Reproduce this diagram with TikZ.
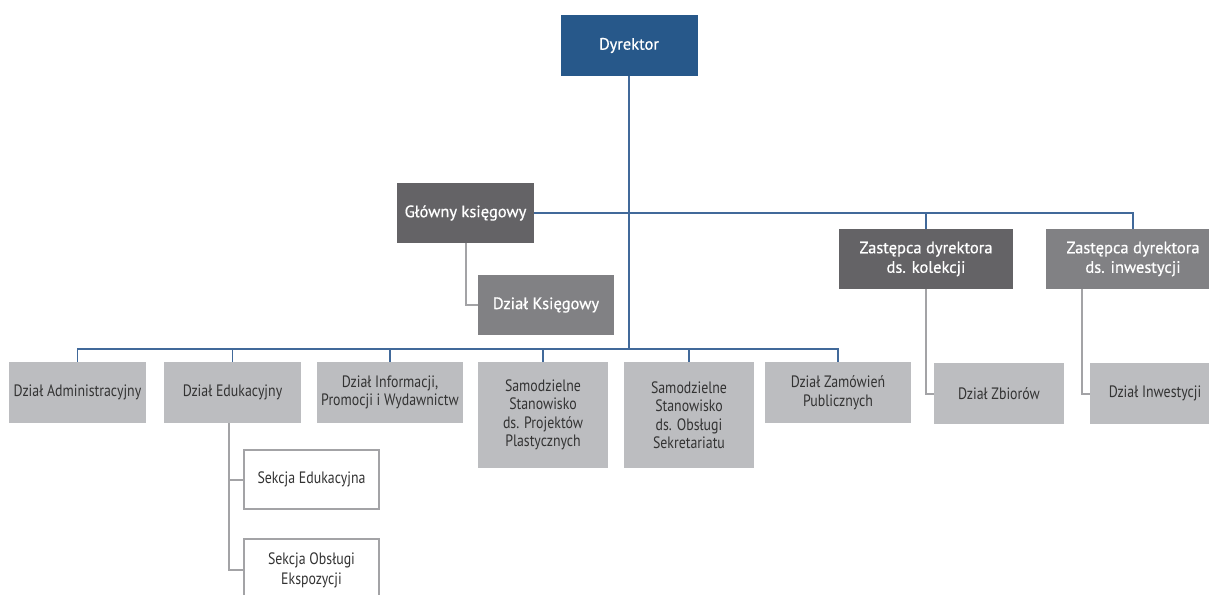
\documentclass[tikz,border=0pt]{standalone}
\usepackage{fontspec}
\setmainfont{PT Sans}
\newfontfamily\narrowfont{PT Sans}[FakeStretch=0.84]
\newfontfamily\headfont{PT Sans}[FakeBold=0.6]
\usepackage{xcolor}
\definecolor{dirblue}{HTML}{27588A}
\definecolor{darkbox}{HTML}{646366}
\definecolor{midbox}{HTML}{818184}
\definecolor{lightbox}{HTML}{BCBDC0}
\definecolor{linkblue}{HTML}{41699A}
\definecolor{linkgray}{HTML}{A3A3A6}
\definecolor{textcol}{HTML}{333333}
\tikzset{
  % top level boxes, white text
  head/.style={fill=#1, text=white, minimum height=60pt, inner sep=2pt,
               align=center, font=\headfont\fontsize{16.5}{19.5}\selectfont},
  % departments = light grey boxes
  unit/.style={fill=lightbox, text=textcol, minimum height=61pt, inner sep=2pt,
               align=center, font=\narrowfont\fontsize{16.5}{18.5}\selectfont},
  % sections = white boxes with grey frame
  sekcja/.style={draw=linkgray, line width=2pt, fill=white, text=textcol,
                 minimum width=135pt, minimum height=59pt, inner sep=2pt,
                 align=center, font=\narrowfont\fontsize{16.5}{20}\selectfont},
  blueline/.style={draw=linkblue, line width=1.5pt},
  grayline/.style={draw=linkgray, line width=2pt},
}

\begin{document}
\begin{tikzpicture}[x=1pt, y=-1pt]
  \clip (0,0) rectangle (1209,594);
  % management
  \node[head=dirblue, minimum width=137pt, minimum height=61pt] (dyr) at (629,45.5) {Dyrektor};
  \node[head=darkbox, minimum width=137pt] (gk) at (465.5,213) {Główny księgowy};
  \node[head=midbox, minimum width=136pt] (dk) at (546,305) {Dział Księgowy};
  \node[head=darkbox, minimum width=174pt] (zk) at (926,259) {Zastępca dyrektora\\ds. kolekcji};
  \node[head=midbox, minimum width=174pt] (zi) at (1133,259) {Zastępca dyrektora\\ds. inwestycji};

  % departments
  \node[unit, minimum width=137pt] (adm) at (77.5,392.5) {Dział Administracyjny};
  \node[unit, minimum width=137pt] (edu) at (232.5,392.5) {Dział Edukacyjny};
  \node[unit, minimum width=146pt] (inf) at (390,392.5) {Dział Informacji,\\Promocji i Wydawnictw};
  \node[unit, minimum width=130pt, minimum height=106pt] (pro) at (543,415)
    {Samodzielne\\Stanowisko\\ds. Projektów\\Plastycznych};
  \node[unit, minimum width=130pt, minimum height=106pt] (sek) at (689,415)
    {Samodzielne\\Stanowisko\\ds. Obsługi\\Sekretariatu};
  \node[unit, minimum width=146pt] (zam) at (838,392.5) {Dział Zamówień\\Publicznych};
  \node[unit, minimum width=130pt] (zb) at (999,393.5) {Dział Zbiorów};
  \node[unit, minimum width=130pt] (di) at (1155,393.5) {Dział Inwestycji};

  % sections
  \node[sekcja] (se) at (311.5,479.5) {Sekcja Edukacyjna};
  \node[sekcja, minimum height=62pt] (so) at (311.5,570) {Sekcja Obsługi\\Ekspozycji};

  % blue lines
  \coordinate (busl) at (629,349);
  \draw[blueline] (dyr.south) -- (busl);
  \draw[blueline] (adm.north) |- (busl) -| (zam.north);
  \foreach \n in {edu,inf,pro,sek}
    \draw[blueline] (\n.north) -- (\n.north |- busl);
  \draw[blueline] (gk.east) -| (zi.north);
  \draw[blueline] (zk.north) -- (zk.north |- gk.east);

  % grey lines
  \draw[grayline] (gk.south) |- (dk.west);
  \draw[grayline] (zk.south) |- (zb.west);
  \draw[grayline] ([xshift=-51pt]zi.south) |- (di.west);
  \draw[grayline] ([xshift=-3.5pt]edu.south) |- (se.west);
  \draw[grayline] ([xshift=-3.5pt]edu.south) |- (so.west);
\end{tikzpicture}
\end{document}
